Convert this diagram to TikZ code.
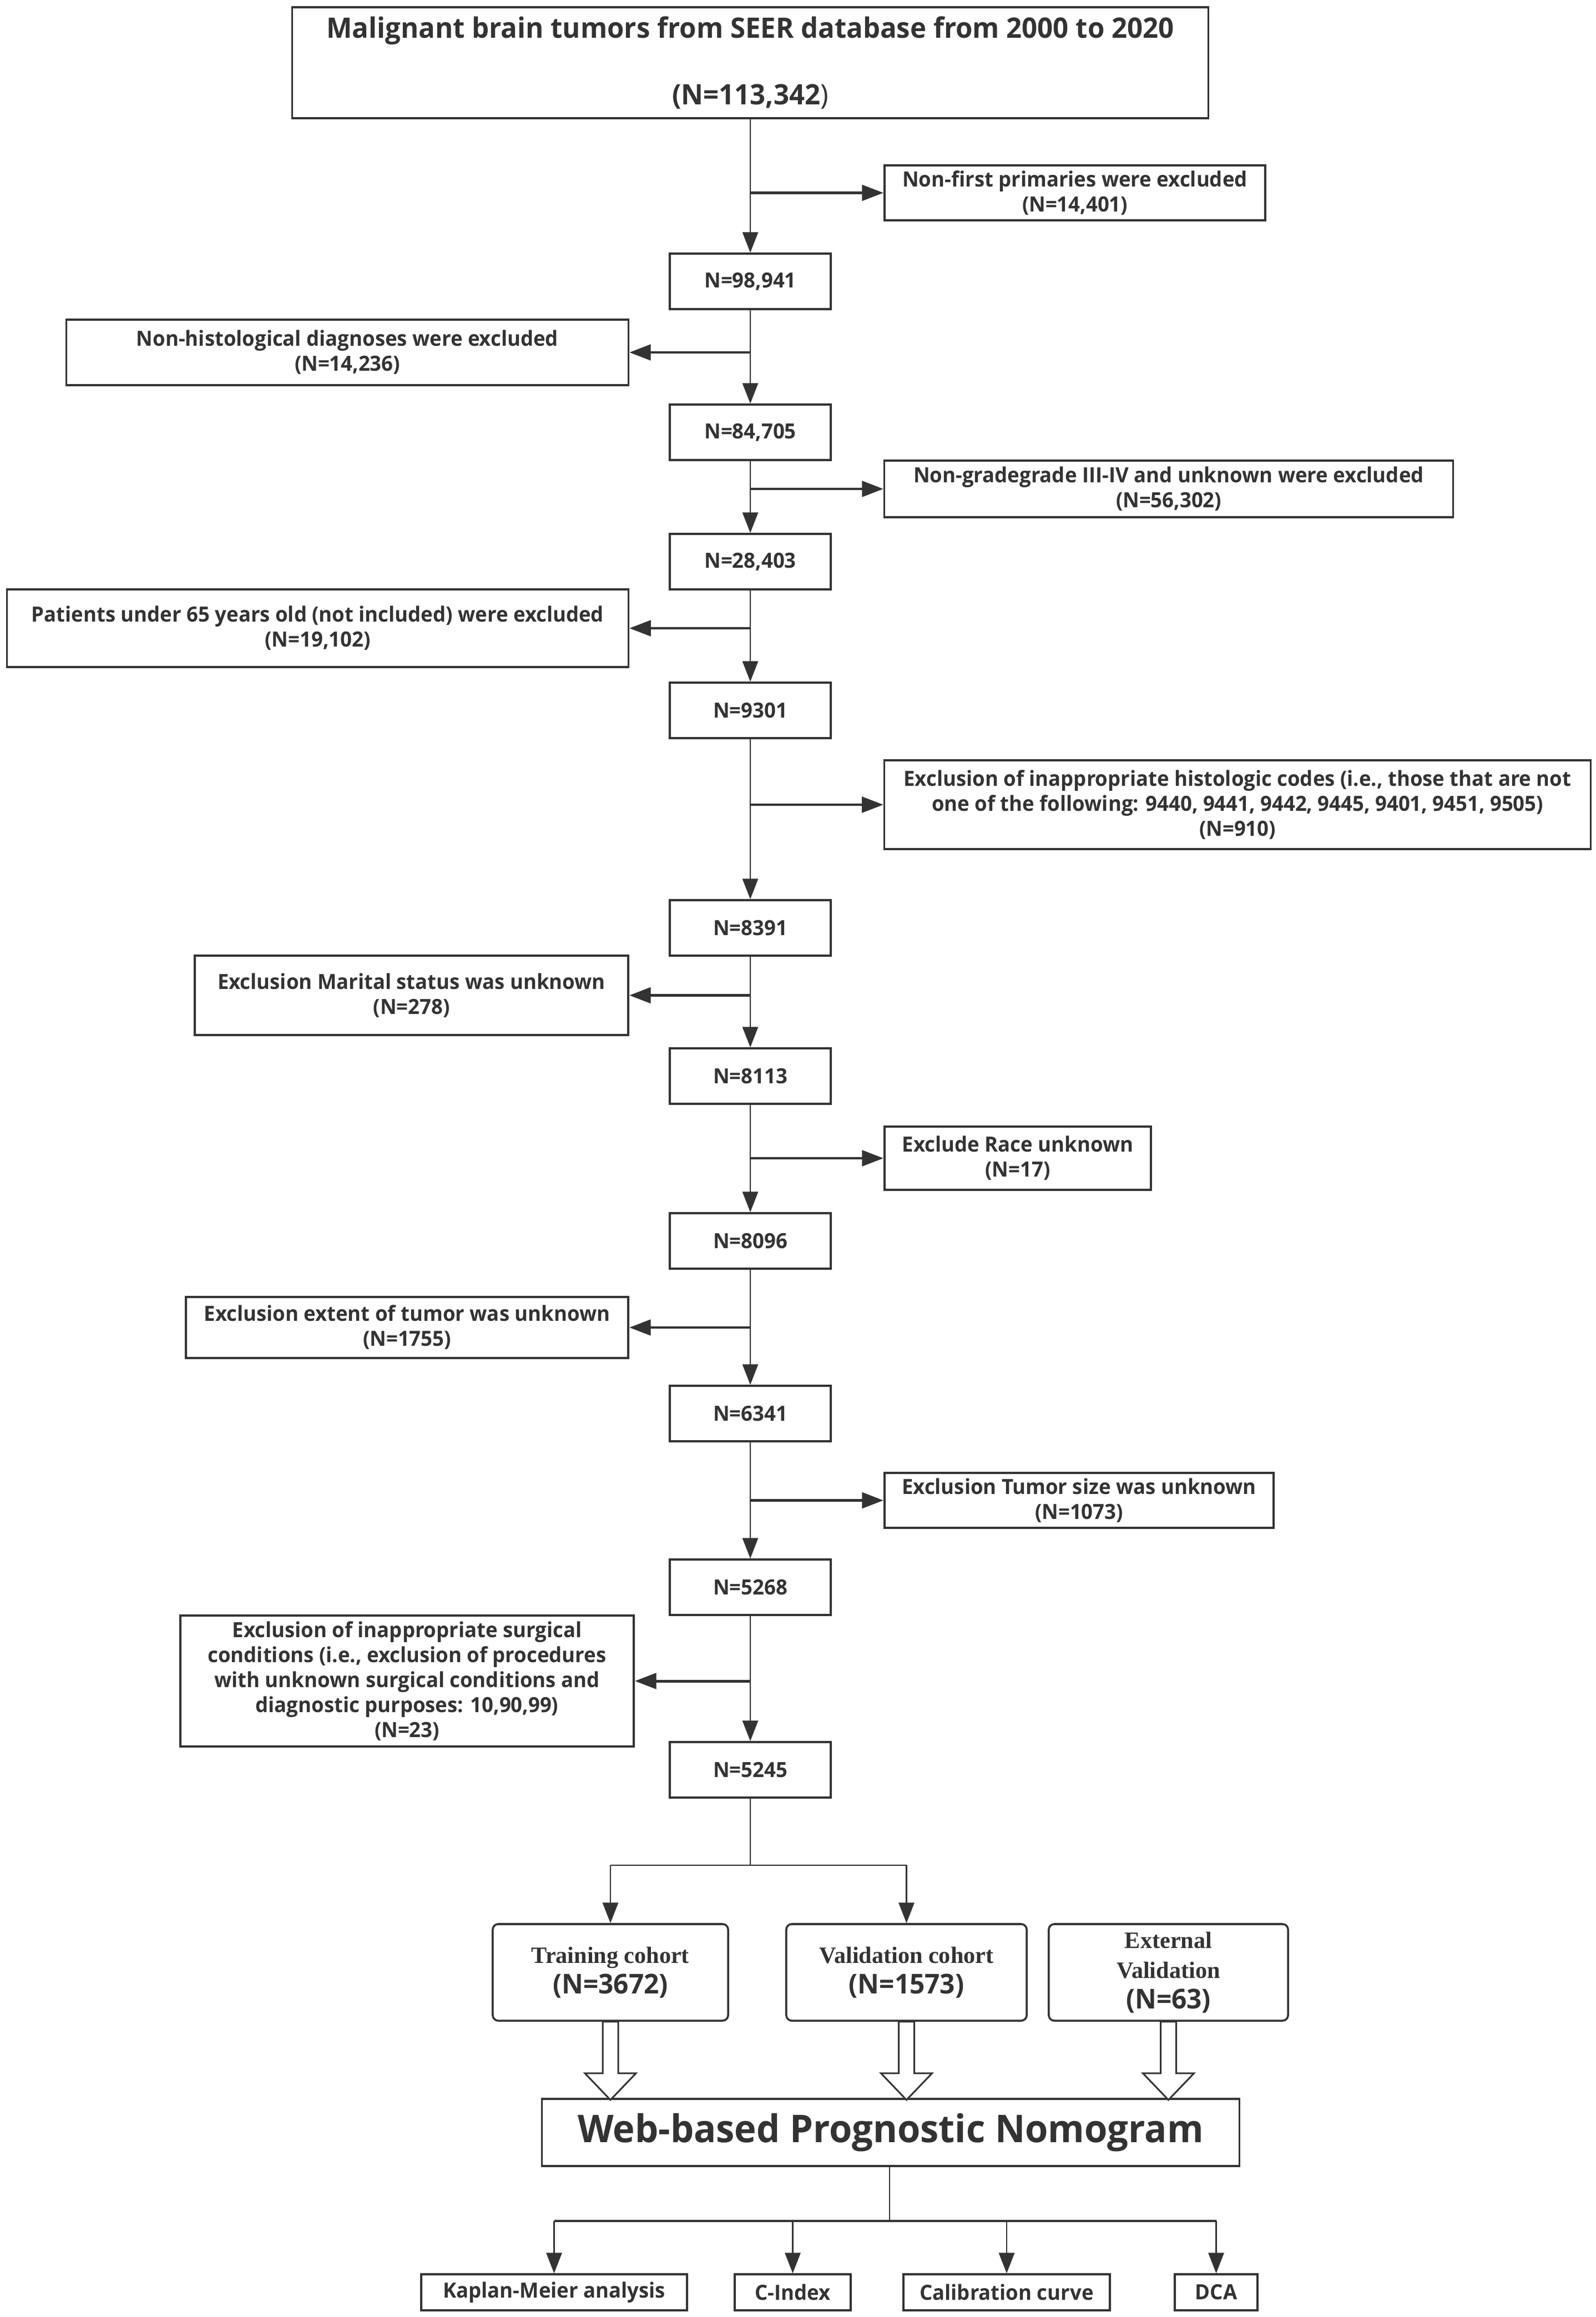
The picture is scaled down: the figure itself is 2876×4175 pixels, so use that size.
\documentclass[tikz,border=0pt]{standalone}
\usepackage{fontspec}
\setmainfont{Open Sans}[FakeStretch=0.97]
\newfontfamily\serifb{Liberation Serif}
\usetikzlibrary{arrows.meta}
\definecolor{ink}{RGB}{51,51,51}
\begin{document}
\begin{tikzpicture}[x=0.01cm,y=-0.01cm,
  box/.style={draw=ink, line width=1pt, fill=white, inner sep=0pt, align=center, text=ink,
    font=\bfseries\fontsize{10.7}{12.8}\selectfont},
  mainbox/.style={box, minimum width=2.9cm, minimum height=1cm},
  cohort/.style={box, rounded corners=0.1cm, minimum height=1.74cm,
    font=\bfseries\fontsize{12}{15.5}\selectfont},
  outbox/.style={box, minimum height=0.65cm},
  vline/.style={draw=ink, line width=0.75pt},
  varrow/.style={vline, -{Triangle[length=10.5pt,width=8pt]}},
  harrow/.style={draw=ink, line width=1.4pt, -{Triangle[length=11pt,width=8pt]}},
  hollow/.style={draw=ink, line width=0.85pt, fill=white, line join=miter}
]
\useasboundingbox (0,0) rectangle (2876,4175);
\fill[white] (0,0) rectangle (2876,4175);

% top box
\node[box, minimum width=16.5cm, minimum height=2cm, font=\bfseries\fontsize{14.4}{34}\selectfont]
  (top) at (1352,113) {Malignant brain tumors from SEER database from 2000 to 2020\\(N=113,342{\mdseries)}};

% main column
\node[mainbox] (b1) at (1352,507) {N=98,941};
\node[mainbox] (b2) at (1352,779) {N=84,705};
\node[mainbox] (b3) at (1352,1012) {N=28,403};
\node[mainbox] (b4) at (1352,1280) {N=9301};
\node[mainbox] (b5) at (1352,1672) {N=8391};
\node[mainbox] (b6) at (1352,1939) {N=8113};
\node[mainbox] (b7) at (1352,2236) {N=8096};
\node[mainbox] (b8) at (1352,2547) {N=6341};
\node[mainbox] (b9) at (1352,2860) {N=5268};
\node[mainbox] (b10) at (1352,3189) {N=5245};

% side boxes
\node[box, minimum width=6.86cm, minimum height=0.99cm] (r1) at (1937,347.5)
  {Non-first primaries were excluded\\(N=14,401)};
\node[box, minimum width=10.12cm, minimum height=1.18cm] (l1) at (626,635)
  {Non-histological diagnoses were excluded\\(N=14,236)};
\node[box, minimum width=10.24cm, minimum height=1.02cm] (r2) at (2106,881)
  {Non-gradegrade III-IV and unknown were excluded\\(N=56,302)};
\node[box, minimum width=11.19cm, minimum height=1.40cm] (l2) at (572.5,1132)
  {Patients under 65 years old (not included) were excluded\\(N=19,102)};
\node[box, minimum width=12.72cm, minimum height=1.60cm] (r3) at (2230,1450)
  {Exclusion of inappropriate histologic codes (i.e., those that are not\\one of the following: 9440, 9441, 9442, 9445, 9401, 9451, 9505)\\(N=910)};
\node[box, minimum width=7.81cm, minimum height=1.43cm] (l3) at (741.5,1793.5)
  {Exclusion Marital status was unknown\\(N=278)};
\node[box, minimum width=4.80cm, minimum height=1.14cm] (r4) at (1834,2087)
  {Exclude Race unknown\\(N=17)};
\node[box, minimum width=7.97cm, minimum height=1.10cm] (l4) at (733.5,2392)
  {Exclusion extent of tumor was unknown\\(N=1755)};
\node[box, minimum width=7.01cm, minimum height=0.99cm] (r5) at (1944.5,2703.5)
  {Exclusion Tumor size was unknown\\(N=1073)};
\node[box, minimum width=8.17cm, minimum height=2.36cm] (l5) at (733.5,3029)
  {Exclusion of inappropriate surgical\\conditions (i.e., exclusion of procedures\\with unknown surgical conditions and\\diagnostic purposes: 10,90,99)\\(N=23)};

% cohorts
\node[cohort, minimum width=4.24cm] (tr) at (1100,3554)
  {{\serifb Training cohort}\\{\fontsize{14}{15.5}\selectfont(N=3672)}};
\node[cohort, minimum width=4.33cm] (va) at (1633.5,3554)
  {{\serifb Validation cohort}\\{\fontsize{14}{15.5}\selectfont(N=1573)}};
\node[cohort, minimum width=4.31cm] (ex) at (2105.5,3554)
  {{\serifb External}\\{\serifb Validation}\\{\fontsize{14}{15.5}\selectfont(N=63)}};

% nomogram
\node[box, minimum width=12.56cm, minimum height=1.21cm, font=\bfseries\fontsize{19.6}{22}\selectfont]
  (nomo) at (1605,3842.5) {Web-based Prognostic Nomogram};

% outputs
\node[outbox, minimum width=4.79cm] (km) at (998.5,4130.5) {Kaplan-Meier analysis};
\node[outbox, minimum width=2.09cm] (ci) at (1428.5,4130.5) {C-Index};
\node[outbox, minimum width=3.72cm] (cal) at (1814,4130.5) {Calibration curve};
\node[outbox, minimum width=1.49cm] (dca) at (2191.5,4130.5) {DCA};

% main vertical arrows
\draw[varrow] (top.south -| b1) -- (b1.north);
\draw[varrow] (b1) -- (b2.north);
\draw[varrow] (b2) -- (b3.north);
\draw[varrow] (b3) -- (b4.north);
\draw[varrow] (b4) -- (b5.north);
\draw[varrow] (b5) -- (b6.north);
\draw[varrow] (b6) -- (b7.north);
\draw[varrow] (b7) -- (b8.north);
\draw[varrow] (b8) -- (b9.north);
\draw[varrow] (b9) -- (b10.north);

% side arrows
\draw[harrow] (r1.west -| b1) -- (r1.west);
\draw[harrow] (l1.east -| b1) -- (l1.east);
\draw[harrow] (r2.west -| b1) -- (r2.west);
\draw[harrow] (l2.east -| b1) -- (l2.east);
\draw[harrow] (r3.west -| b1) -- (r3.west);
\draw[harrow] (l3.east -| b1) -- (l3.east);
\draw[harrow] (r4.west -| b1) -- (r4.west);
\draw[harrow] (l4.east -| b1) -- (l4.east);
\draw[harrow] (r5.west -| b1) -- (r5.west);
\draw[harrow] (l5.east -| b1) -- (l5.east);

% split to cohorts
\coordinate (split) at (1352,3361);
\draw[vline] (b10.south) -- (split);
\draw[vline] (split -| tr) -- (split -| va);
\draw[varrow] (split -| tr) -- (tr.north);
\draw[varrow] (split -| va) -- (va.north);

% hollow arrows
\foreach \c in {tr,va,ex}{
  \draw[hollow] (\c.south) ++(-14,0) -- ++(0,93) -- ++(-32,0) -- ++(46,48)
    -- ++(46,-48) -- ++(-32,0) -- ++(0,-93) -- cycle;
}

% outputs
\coordinate (osplit) at (1603,4002);
\draw[vline] (nomo.south -| osplit) -- (osplit);
\draw[draw=ink, line width=1.1pt] (osplit -| km) -- (osplit -| dca);
\draw[varrow] (osplit -| km) -- (km.north);
\draw[varrow] (osplit -| ci) -- (ci.north);
\draw[varrow] (osplit -| cal) -- (cal.north);
\draw[varrow] (osplit -| dca) -- (dca.north);
\end{tikzpicture}
\end{document}
